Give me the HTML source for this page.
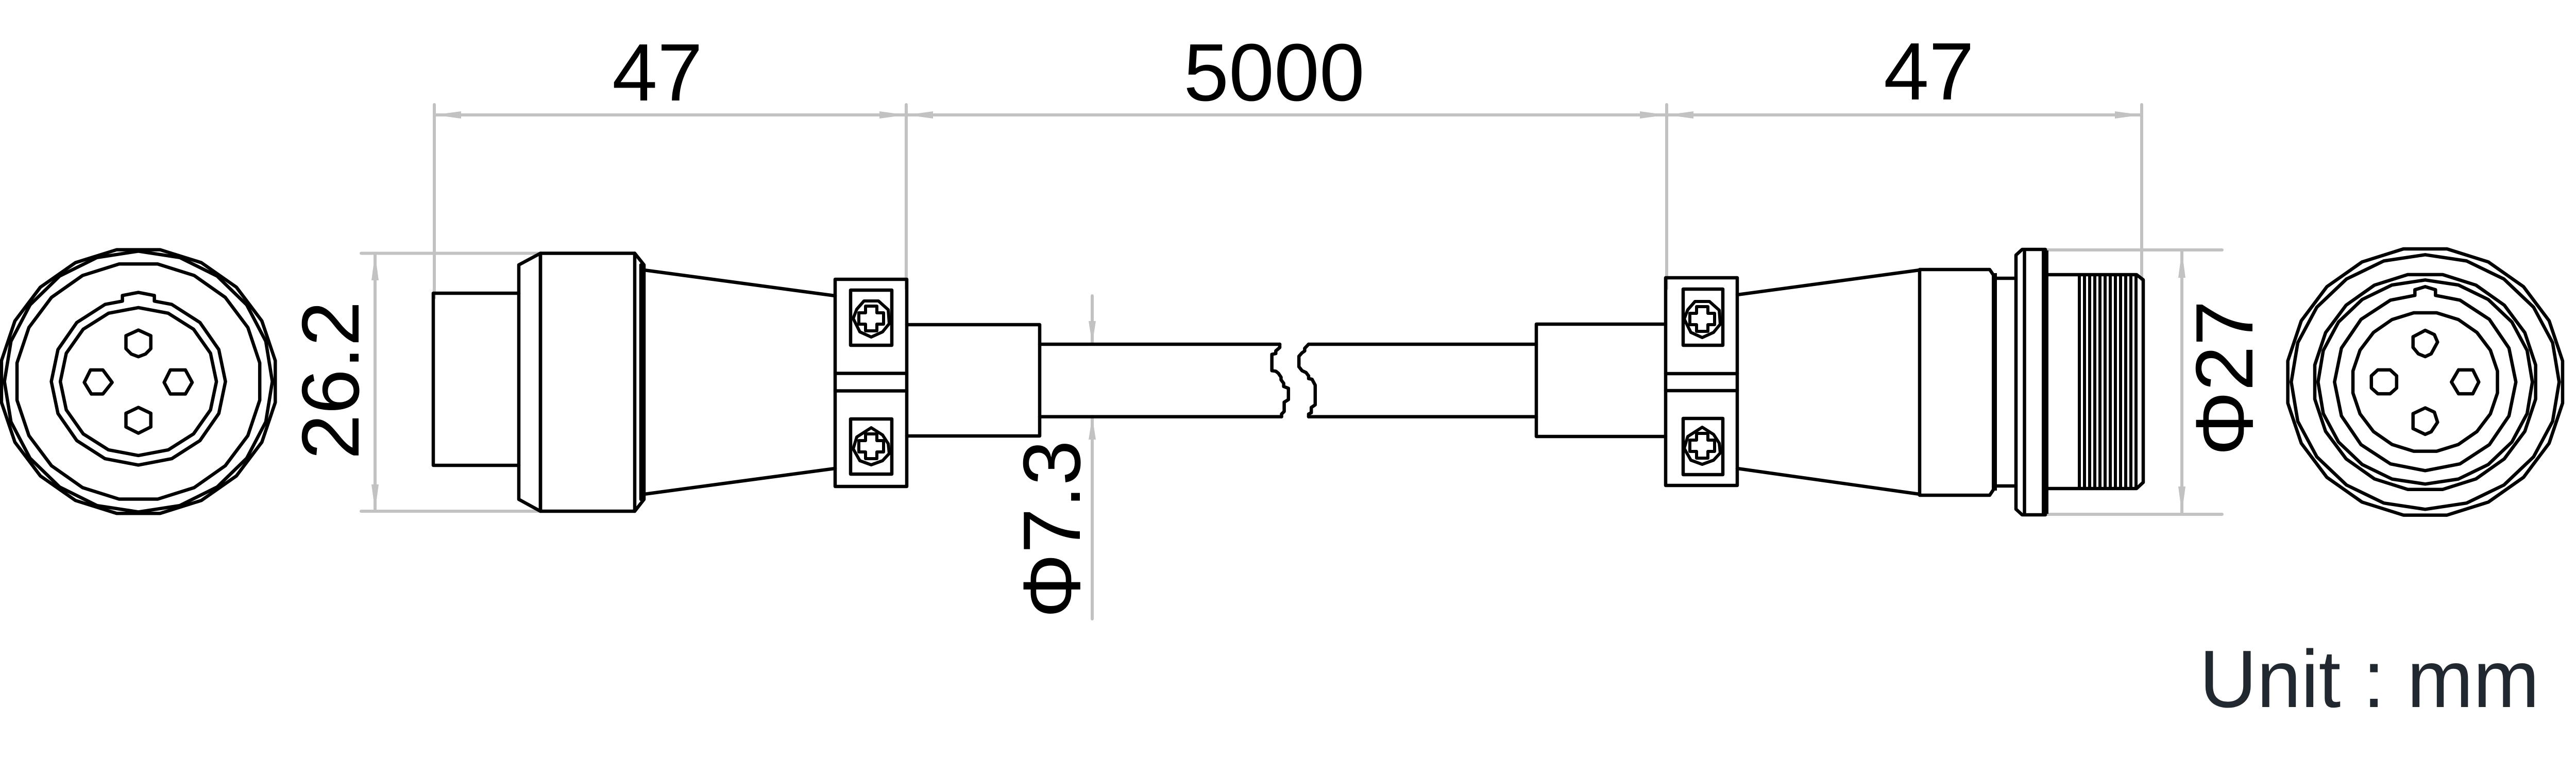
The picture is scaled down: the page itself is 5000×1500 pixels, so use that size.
<!DOCTYPE html>
<html><head><meta charset="utf-8"><style>
html,body{margin:0;padding:0;background:#fff;}
svg{display:block;}
</style></head><body>
<svg xmlns="http://www.w3.org/2000/svg" width="5000" height="1500" viewBox="0 0 5000 1500">
<rect width="5000" height="1500" fill="#fff"/>

<!-- ===== Dimension lines (gray) ===== -->
<g stroke="#c2c2c2" stroke-width="6" stroke-linecap="round" fill="none">
  <line x1="843" y1="223" x2="4157" y2="223"/>
  <line x1="843" y1="203" x2="843" y2="578"/>
  <line x1="1759" y1="203" x2="1759" y2="560"/>
  <line x1="3235" y1="203" x2="3235" y2="560"/>
  <line x1="4157" y1="203" x2="4157" y2="543"/>
  <!-- 26.2 -->
  <line x1="701" y1="491.5" x2="1049" y2="491.5"/>
  <line x1="701" y1="992" x2="1049" y2="992"/>
  <line x1="728" y1="492" x2="728" y2="992"/>
  <!-- phi 7.3 -->
  <line x1="2120" y1="574" x2="2120" y2="668"/>
  <line x1="2120" y1="808" x2="2120" y2="1201"/>
  <!-- phi 27 -->
  <line x1="3967" y1="485" x2="4313" y2="485"/>
  <line x1="3967" y1="998" x2="4313" y2="998"/>
  <line x1="4235" y1="487" x2="4235" y2="996"/>
</g>
<g fill="#c2c2c2">
  <polygon points="843,223 895,216 895,230"/>
  <polygon points="1759,223 1707,216 1707,230"/>
  <polygon points="1759,223 1811,216 1811,230"/>
  <polygon points="3235,223 3183,216 3183,230"/>
  <polygon points="3235,223 3287,216 3287,230"/>
  <polygon points="4157,223 4105,216 4105,230"/>
  <polygon points="728,492 721,544 735,544"/>
  <polygon points="728,992 721,940 735,940"/>
  <polygon points="2120,668 2113,623 2127,623"/>
  <polygon points="2120,808 2113,853 2127,853"/>
  <polygon points="4235,487 4228,539 4242,539"/>
  <polygon points="4235,996 4228,944 4242,944"/>
</g>

<!-- ===== Text ===== -->
<g font-family="'Liberation Sans', Arial, sans-serif" font-size="158" fill="#000">
  <text x="1276" y="195" text-anchor="middle">47</text>
  <text x="2473" y="195" text-anchor="middle">5000</text>
  <text x="3744" y="193" text-anchor="middle">47</text>
  <text transform="translate(696,738) rotate(-90)" text-anchor="middle">26.2</text>
  <text transform="translate(2096,1027) rotate(-90)" text-anchor="middle">Φ7.3</text>
  <text transform="translate(4372,734) rotate(-90)" text-anchor="middle">Φ27</text>
</g>
<text x="4269" y="1372" font-family="'Liberation Sans', Arial, sans-serif" font-size="158" fill="#22282f" textLength="660" lengthAdjust="spacingAndGlyphs">Unit : mm</text>

<!-- ===== Black drawing ===== -->
<g stroke="#000" stroke-width="6.5" fill="none" stroke-linejoin="round" stroke-linecap="round">

  <!-- Left face view -->
  <g transform="translate(268.6,740.4)">
    <polygon vector-effect="non-scaling-stroke" transform="scale(2.69,2.59)" points="98.77,15.64 89.1,45.4 70.71,70.71 45.4,89.1 15.64,98.77 -15.64,98.77 -45.4,89.1 -70.71,70.71 -89.1,45.4 -98.77,15.64 -98.77,-15.64 -89.1,-45.4 -70.71,-70.71 -45.4,-89.1 -15.64,-98.77 15.64,-98.77 45.4,-89.1 70.71,-70.71 89.1,-45.4 98.77,-15.64"/>
    <polygon vector-effect="non-scaling-stroke" transform="scale(2.60,2.53)" points="0,-100 30.9,-95.11 58.78,-80.9 80.9,-58.78 95.11,-30.9 100,0 95.11,30.9 80.9,58.78 58.78,80.9 30.9,95.11 0,100 -30.9,95.11 -58.78,80.9 -80.9,58.78 -95.11,30.9 -100,0 -95.11,-30.9 -80.9,-58.78 -58.78,-80.9 -30.9,-95.11"/>
    <polygon vector-effect="non-scaling-stroke" transform="scale(2.385,2.31)" points="98.77,15.64 89.1,45.4 70.71,70.71 45.4,89.1 15.64,98.77 -15.64,98.77 -45.4,89.1 -70.71,70.71 -89.1,45.4 -98.77,15.64 -98.77,-15.64 -89.1,-45.4 -70.71,-70.71 -45.4,-89.1 -15.64,-98.77 15.64,-98.77 45.4,-89.1 70.71,-70.71 89.1,-45.4 98.77,-15.64"/>
    <polygon points="-64.7,-149.7 -31,-156.1 -31,-167 0,-173 31,-167 31,-156.1 64.7,-149.7 119.5,-114.6 156.1,-62 169,0 156.1,62 119.5,114.6 64.7,149.7 0,162 -64.7,149.7 -119.5,114.6 -156.1,62 -169,0 -156.1,-62 -119.5,-114.6"/>
    <polygon vector-effect="non-scaling-stroke" transform="scale(1.515,1.435)" points="0,-100 38.27,-92.39 70.71,-70.71 92.39,-38.27 100,0 92.39,38.27 70.71,70.71 38.27,92.39 0,100 -38.27,92.39 -70.71,70.71 -92.39,38.27 -100,0 -92.39,-38.27 -70.71,-70.71 -38.27,-92.39"/>
    <!-- pins -->
    <polygon points="0,-99.9 24.1,-88.9 24.1,-63.8 13.8,-53.4 0,-48.2 -13.8,-53.4 -24.1,-63.8 -24.1,-88.9"/>
    <polygon points="0,50.2 24.1,61.6 24.1,88.1 0,100.2 -24.1,88.1 -24.1,61.6"/>
    <polygon points="-93,-22.5 -68.9,-22.5 -51,1.7 -68.9,24.1 -91.3,24.1 -105,1.7"/>
    <polygon points="62,-22.5 91.3,-22.5 104.4,1.7 91.3,24.1 62,24.1 50,1.7"/>
  </g>

  <!-- Right face view -->
  <g transform="translate(4707.3,741.3)">
    <polygon vector-effect="non-scaling-stroke" transform="scale(2.70,2.615)" points="98.77,15.64 89.1,45.4 70.71,70.71 45.4,89.1 15.64,98.77 -15.64,98.77 -45.4,89.1 -70.71,70.71 -89.1,45.4 -98.77,15.64 -98.77,-15.64 -89.1,-45.4 -70.71,-70.71 -45.4,-89.1 -15.64,-98.77 15.64,-98.77 45.4,-89.1 70.71,-70.71 89.1,-45.4 98.77,-15.64"/>
    <polygon vector-effect="non-scaling-stroke" transform="scale(2.60,2.47)" points="0,-100 30.9,-95.11 58.78,-80.9 80.9,-58.78 95.11,-30.9 100,0 95.11,30.9 80.9,58.78 58.78,80.9 30.9,95.11 0,100 -30.9,95.11 -58.78,80.9 -80.9,58.78 -95.11,30.9 -100,0 -95.11,-30.9 -80.9,-58.78 -58.78,-80.9 -30.9,-95.11"/>
    <polygon vector-effect="non-scaling-stroke" transform="scale(2.17,2.11)" points="98.77,15.64 89.1,45.4 70.71,70.71 45.4,89.1 15.64,98.77 -15.64,98.77 -45.4,89.1 -70.71,70.71 -89.1,45.4 -98.77,15.64 -98.77,-15.64 -89.1,-45.4 -70.71,-70.71 -45.4,-89.1 -15.64,-98.77 15.64,-98.77 45.4,-89.1 70.71,-70.71 89.1,-45.4 98.77,-15.64"/>
    <polygon vector-effect="non-scaling-stroke" transform="scale(2.08,1.98)" points="0,-100 30.9,-95.11 58.78,-80.9 80.9,-58.78 95.11,-30.9 100,0 95.11,30.9 80.9,58.78 58.78,80.9 30.9,95.11 0,100 -30.9,95.11 -58.78,80.9 -80.9,58.78 -95.11,30.9 -100,0 -95.11,-30.9 -80.9,-58.78 -58.78,-80.9 -30.9,-95.11"/>
    <polygon points="-67.4,-158.9 -20,-168.1 -20,-179 0,-185 20,-179 20,-168.1 67.4,-158.9 124.5,-121.6 162.6,-65.8 176,0 162.6,65.8 124.5,121.6 67.4,158.9 0,172 -67.4,158.9 -124.5,121.6 -162.6,65.8 -176,0 -162.6,-65.8 -124.5,-121.6"/>
    <polygon vector-effect="non-scaling-stroke" transform="scale(1.42,1.36)" points="98.77,15.64 89.1,45.4 70.71,70.71 45.4,89.1 15.64,98.77 -15.64,98.77 -45.4,89.1 -70.71,70.71 -89.1,45.4 -98.77,15.64 -98.77,-15.64 -89.1,-45.4 -70.71,-70.71 -45.4,-89.1 -15.64,-98.77 15.64,-98.77 45.4,-89.1 70.71,-70.71 89.1,-45.4 98.77,-15.64"/>
    <!-- pins -->
    <polygon points="0,-100.3 17.8,-92 24,-77.5 11.6,-54.7 0,-49.3 -13.3,-54.7 -23.6,-67.1 -23.6,-87.8"/>
    <polygon points="0,50.2 17.8,58.5 24,78 11.6,96.6 0,101.6 -23.6,90.4 -23.6,61.4"/>
    <polygon points="-92,-23.6 -68,-23.6 -55.5,-12 -55.5,11.6 -68,22.8 -92,22.8 -104.5,11.6 -104.5,-12"/>
    <polygon points="64.7,-23.6 92.4,-23.6 104,0 92.4,22.8 64.7,22.8 51,0"/>
  </g>

  <!-- Left connector -->
  <polyline points="1007,569 841,569 841,903 1007,903"/>
  <polygon points="1007,514 1049,491.5 1049,992 1007,969"/>
  <rect x="1049" y="491.5" width="183" height="500.5"/>
  <polyline points="1232,491.5 1250,514 1250,969 1232,992"/>
  <line x1="1244" y1="514" x2="1244" y2="969"/>
  <line x1="1250" y1="524" x2="1621" y2="574"/>
  <line x1="1250" y1="959" x2="1621" y2="909"/>
  <rect x="1621" y="542" width="139" height="402"/>
  <line x1="1621" y1="724.5" x2="1760" y2="724.5"/>
  <line x1="1621" y1="758.5" x2="1760" y2="758.5"/>
  <rect x="1651" y="563" width="80" height="107"/>
  <rect x="1651" y="813" width="80" height="107"/>
  <polyline points="1760,630 2018,630 2018,846 1760,846"/>
  <line x1="2018" y1="668" x2="2484" y2="668"/>
  <line x1="2018" y1="808.6" x2="2487.5" y2="808.6"/>
  <polyline points="2484,668 2484,674.4 2476.3,681 2476.3,686 2468.7,687.7 2468.7,719.3 2476.3,720.3 2481.4,724.4 2486.5,732 2486.5,737 2491.6,743.8 2491.6,750 2500.8,753.5 2500.8,775.4 2492.6,780.5 2492.6,798.4 2487.5,803.5 2487.5,808.6"/>

  <!-- Right connector -->
  <polyline points="2540,668 2532.4,676 2532.4,681 2527.3,684.6 2521.2,691.3 2521.2,711.7 2527.3,719.3 2535,722.9 2540,729.5 2540,734.6 2546.7,736.1 2552.8,747.4 2552.8,785.6 2545.2,790.7 2545.2,800.9 2540,803.5 2540,808.6"/>
  <line x1="2540" y1="668" x2="2982" y2="668"/>
  <line x1="2540" y1="808.6" x2="2982" y2="808.6"/>
  <polyline points="3233,629 2982,629 2982,847 3233,847"/>
  <rect x="3233" y="539" width="139" height="403"/>
  <line x1="3233" y1="725" x2="3372" y2="725"/>
  <line x1="3233" y1="758" x2="3372" y2="758"/>
  <rect x="3267" y="561" width="77" height="109"/>
  <rect x="3267" y="812" width="77" height="109"/>
  <line x1="3372" y1="572" x2="3726" y2="524"/>
  <line x1="3372" y1="909" x2="3726" y2="959"/>
  <polyline points="3726,523 3862,523 3870,535 3870,949 3862,961 3726,961 3726,523"/>
  <line x1="3870" y1="540" x2="3913" y2="540"/>
  <line x1="3870" y1="943" x2="3913" y2="943"/>
  <polygon points="3913,495 3925,484 3970,484 3970,999 3925,999 3913,988"/>
  <line x1="3929.5" y1="487" x2="3929.5" y2="996"/>
  <polyline points="3976,533 4147,533 4160,543 4160,936 4147,948 3976,948"/>
</g>

<!-- thick pieces & thread -->
<rect x="3963" y="486" width="13" height="511" fill="#000"/>
<rect x="3866" y="530" width="10" height="422" fill="#000"/>
<g stroke="#000" stroke-width="6">
  <line x1="4036" y1="533" x2="4036" y2="948"/>
  <line x1="4046" y1="533" x2="4046" y2="948"/>
  <line x1="4056" y1="533" x2="4056" y2="948"/>
  <line x1="4066" y1="533" x2="4066" y2="948"/>
  <line x1="4076" y1="533" x2="4076" y2="948"/>
  <line x1="4086" y1="533" x2="4086" y2="948"/>
  <line x1="4096" y1="533" x2="4096" y2="948"/>
  <line x1="4106" y1="533" x2="4106" y2="948"/>
  <line x1="4116" y1="533" x2="4116" y2="948"/>
  <line x1="4126" y1="533" x2="4126" y2="948"/>
  <line x1="4136" y1="533" x2="4136" y2="948"/>
  <line x1="4146" y1="536" x2="4146" y2="945"/>
</g>

<!-- Screws -->
<g stroke="#000" stroke-width="6" fill="none" stroke-linejoin="round">
  <g transform="translate(1691,618)">
    <polygon points="-14,-34 14,-34 33,-17 35,10 22,26 0,36 -22,26 -35,0 -28,-18"/>
    <path d="M-11,-24 H11 V-11 H24 V11 H11 V24 H-11 V11 H-24 V-11 H-11 Z"/>
  </g>
  <g transform="translate(1691,866)">
    <polygon points="0,-36 22,-22 33,-5 35,14 22,28 0,36 -22,28 -35,5 -28,-18"/>
    <path d="M-11,-24 H11 V-11 H24 V11 H11 V24 H-11 V11 H-24 V-11 H-11 Z"/>
  </g>
  <g transform="translate(3304,619)">
    <polygon points="-14,-34 14,-34 33,-17 35,10 22,26 0,36 -22,26 -35,0 -28,-18"/>
    <path d="M-11,-24 H11 V-11 H24 V11 H11 V24 H-11 V11 H-24 V-11 H-11 Z"/>
  </g>
  <g transform="translate(3304,865)">
    <polygon points="0,-36 22,-22 33,-5 35,14 22,28 0,36 -22,28 -35,5 -28,-18"/>
    <path d="M-11,-24 H11 V-11 H24 V11 H11 V24 H-11 V11 H-24 V-11 H-11 Z"/>
  </g>
</g>
</svg>
</body></html>
